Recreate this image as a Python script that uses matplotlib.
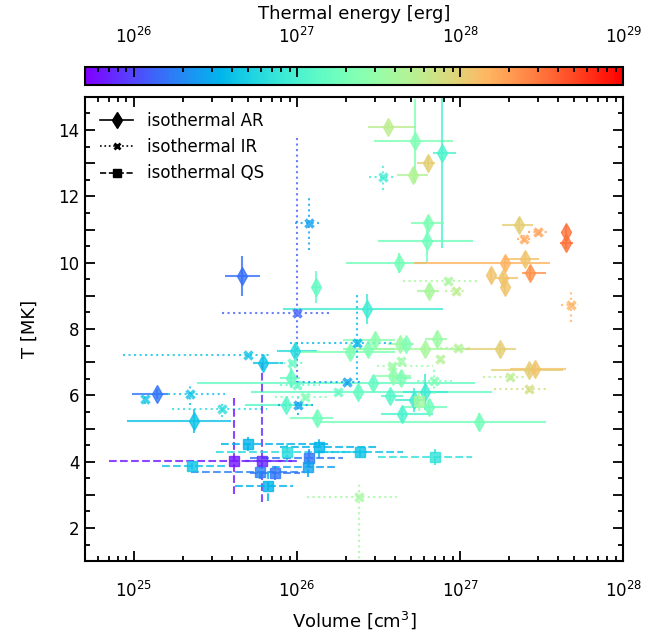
import matplotlib

matplotlib.use("Agg")
import matplotlib.pyplot as plt
import numpy as np
from matplotlib.colors import LogNorm
from matplotlib.lines import Line2D
from matplotlib.ticker import FuncFormatter, LogLocator, MultipleLocator, NullFormatter

# volumes in units of 1e25 cm^3; *_lo / *_hi are the ends of the x error bar
# temperatures in MK, errors below / above; thermal energy in erg

# --- isothermal AR (diamonds, solid) ---
ar_vol = [4.6, 13.1, 1.38, 2.33, 6.2, 9.7, 9.2, 8.6, 13.3, 21.1, 27.3, 30.1, 42.9, 46.7,
          61, 72.3, 176, 265, 288, 38.8, 43.5, 29.3, 23.7, 37.2, 61, 52.2, 64.5, 44.1,
          131, 36.2, 53, 77.6, 63.6, 51.5, 63.6, 62.7, 42.3, 189, 251, 230, 447, 447,
          269, 155, 184, 189, 64.5, 26.9]
ar_vol_lo = [3.6, 12.4, 0.97, 0.91, 5.4, 7.5, 7.9, 4.8, 9.1, 10.4, 19.2, 19.2, 36, 46.7,
             19.7, 61, 107, 155, 203, 30.1, 38, 2.44, 5.2, 32.8, 44.7, 40, 44.7, 32.8,
             13.6, 27.3, 29.7, 68.3, 54.5, 41.1, 50, 31.4, 20, 52.2, 191, 181, 447, 411,
             240, 155, 164, 189, 54.5, 8.2]
ar_vol_hi = [5.9, 13.8, 1.62, 3.94, 8.2, 13.3, 10.4, 12.5, 16.6, 39.9, 39.9, 39.9, 52, 46.7,
             115, 83, 221, 429, 447, 50, 50, 124, 157, 44.7, 84.4, 62, 83.2, 68.3,
             337, 53.7, 90.6, 94.5, 70.3, 63.6, 79.8, 120, 61.8, 357, 305, 281, 447, 493,
             337, 155, 227, 189, 74.3, 78.6]
ar_temp = [9.6, 9.27, 6.04, 5.22, 6.97, 7.34, 6.52, 5.71, 5.32, 7.31, 7.40, 7.67, 7.55, 7.55,
           7.40, 7.70, 7.40, 6.76, 6.79, 6.58, 6.52, 6.37, 6.10, 5.98, 6.10, 5.86, 5.65, 5.44,
           5.19, 14.10, 13.67, 13.31, 13.01, 12.65, 11.20, 10.66, 9.99, 9.99, 10.11, 11.14,
           10.93, 10.60, 9.69, 9.63, 9.54, 9.27, 9.15, 8.60]
ar_temp_err = [0.6, 0.48, 0.15, 0.36, 0.2, 0.2, 0.3, 0.15, 0.2, 0.2, 0.2, 0.25, 0.15, 0.15,
               0.15, 0.25, 0.15, 0.15, 0.15, 0.2, 0.2, 0.15, 0.2, 0.15, 0.55, 0.35, 0.2, 0.2,
               0.27, 0.1, 1.27, 2.87, 0.2, 0.2, 0.25, 0.65, 0.3, 0.2, 0.2, 0.2,
               0.2, 0.2, 0.2, 0.2, 0.15, 0.2, 0.2, 0.45]
ar_energy = [1.5e26, 1.5e27, 1.6e26, 4.2e26, 4.2e26, 6.2e26, 1.5e27, 1.2e27, 1.8e27, 2.2e27,
             2.2e27, 2.6e27, 3.3e27, 2.2e27, 4.1e27, 3.3e27, 1.0e28, 1.0e28, 1.2e28, 2.8e27,
             2.2e27, 1.5e27, 1.5e27, 1.2e27, 8.9e26, 8.9e26, 1.8e27, 1.05e27, 1.9e27, 5.6e27,
             2.2e27, 1.05e27, 1.0e28, 4.8e27, 2.2e27, 1.8e27, 1.9e27, 1.5e28, 1.2e28, 1.0e28,
             3.2e28, 3.2e28, 2.2e28, 1.2e28, 1.2e28, 1.2e28, 4.1e27, 8.9e26]

# --- isothermal IR (crosses, dotted) ---
ir_vol = [1.17, 2.21, 3.47, 5.0, 10.0, 11.8, 33.7, 9.3, 20.3, 10.1, 10.0, 11.2, 17.8, 23.4,
          38.3, 43.5, 75.4, 97.2, 69.3, 203, 265, 24.0, 301, 247, 480, 84.4, 94.5]
ir_vol_lo = [1.17, 1.62, 1.71, 0.86, 3.47, 9.7, 27.7, 7.6, 10.0, 7.6, 7.9, 7.3, 17.8, 9.1,
             31.0, 43.5, 75.4, 75.4, 54.5, 138, 162, 11.5, 261, 224, 417, 44.7, 80.9]
ir_vol_hi = [1.17, 3.62, 6.54, 6.8, 15.9, 13.6, 40.5, 11.2, 24.4, 12.5, 13.8, 15.9, 17.8, 39.9,
             68.3, 43.5, 75.4, 120, 89.3, 254, 352, 41.1, 342, 273, 530, 131, 110]
ir_temp = [5.89, 6.04, 5.59, 7.22, 8.48, 11.20, 12.59, 6.97, 6.40, 5.71, 6.31, 5.95, 6.10, 7.58,
           6.88, 7.03, 7.10, 7.43, 6.43, 6.55, 6.19, 2.93, 10.93, 10.72, 8.72, 9.45, 9.15]
ir_temp_lo = [0.15, 0.33, 0.25, 0.05, 2.1, 0.83, 0.4, 0.1, 0.1, 0.3, 0.1, 0.1, 0.1, 1.12,
              0.1, 0.1, 0.1, 0.1, 0.4, 0.1, 0.1, 2.0, 0.1, 0.1, 0.5, 0.1, 0.1]
ir_temp_hi = [0.15, 0.33, 0.25, 0.05, 5.3, 0.83, 0.4, 0.1, 0.1, 0.3, 0.1, 0.1, 0.1, 1.45,
              0.1, 0.1, 0.1, 0.1, 0.4, 0.1, 0.1, 0.5, 0.1, 0.1, 0.5, 0.1, 0.1]
ir_energy = [4.2e26, 4.2e26, 6.2e26, 4.2e26, 1.3e26, 2.7e26, 8.9e26, 1.5e27, 2.7e26, 2.7e26,
             1.5e27, 2.2e27, 1.5e27, 3.4e26, 3.3e27, 3.3e27, 4.8e27, 4.8e27, 2.2e27, 5.6e27,
             7.6e27, 3.9e27, 1.9e28, 1.7e28, 1.5e28, 4.1e27, 5.6e27]

# --- isothermal QS (squares, dashed) ---
qs_vol = [2.27, 4.11, 6.1, 5.0, 8.7, 13.6, 11.8, 11.7, 5.9, 7.3, 6.6, 24.4, 70.3, 56.0]
qs_vol_lo = [1.49, 0.70, 4.8, 3.42, 3.19, 7.9, 5.15, 7.0, 2.24, 5.15, 4.17, 13.8, 31.4, 50]
qs_vol_hi = [3.72, 9.3, 10.4, 15.9, 28, 31, 19.2, 17.6, 11.2, 10.4, 9.45, 44.7, 118, 62]
qs_temp = [3.87, 4.02, 4.02, 4.53, 4.29, 4.44, 4.11, 3.84, 3.69, 3.66, 3.26, 4.29, 4.14, 5.83]
qs_temp_lo = [0.1, 1.0, 1.24, 0.2, 0.3, 0.33, 0.3, 0.3, 0.2, 0.2, 0.45, 0.15, 0.25, 0.3]
qs_temp_hi = [0.1, 1.9, 2.95, 0.2, 0.3, 0.33, 0.3, 0.3, 0.2, 0.2, 0.45, 0.15, 0.25, 0.3]
qs_energy = [4.2e26, 6.3e25, 7.4e25, 3.4e26, 6.2e26, 3.4e26, 1.6e26, 2.7e26, 1.8e26, 1.6e26,
             3.4e26, 4.2e26, 7.2e26, 3.9e27]

cmap = plt.get_cmap("rainbow")
norm = LogNorm(vmin=5e25, vmax=1e29)

fig = plt.figure(figsize=(6.68, 6.37), dpi=100)
ax = fig.add_axes([0.127, 0.119, 0.806, 0.729])
cax = fig.add_axes([0.127, 0.867, 0.806, 0.028])


def draw(vol, lo, hi, temp, tlo, thi, energy, marker, ls, ms, mew):
    vol = np.asarray(vol) * 1e25
    lo = np.asarray(lo) * 1e25
    hi = np.asarray(hi) * 1e25
    for i in range(len(vol)):
        c = cmap(norm(energy[i]))
        eb = ax.errorbar(vol[i], temp[i],
                         xerr=[[vol[i] - lo[i]], [hi[i] - vol[i]]],
                         yerr=[[tlo[i]], [thi[i]]],
                         fmt=marker, color=c, ms=ms, mew=mew,
                         elinewidth=1.5, capsize=0, alpha=0.8)
        for lc in eb[2]:
            lc.set_linestyle(ls)


draw(ar_vol, ar_vol_lo, ar_vol_hi, ar_temp, ar_temp_err, ar_temp_err, ar_energy,
     "d", "-", 9, 1)
draw(ir_vol, ir_vol_lo, ir_vol_hi, ir_temp, ir_temp_lo, ir_temp_hi, ir_energy,
     "x", ":", 6, 2.5)
draw(qs_vol, qs_vol_lo, qs_vol_hi, qs_temp, qs_temp_lo, qs_temp_hi, qs_energy,
     "s", "--", 7, 1)

ax.set_xscale("log")
ax.set_xlim(5e24, 1e28)
ax.set_ylim(1, 15)
ax.set_xlabel("Volume [cm$^3$]", fontsize=13, labelpad=6)
ax.set_ylabel("T [MK]", fontsize=13, labelpad=14)
ax.yaxis.set_major_locator(MultipleLocator(1))
ax.yaxis.set_minor_locator(MultipleLocator(0.5))
ax.yaxis.set_major_formatter(FuncFormatter(lambda v, p: f"{v:.0f}" if round(v) % 2 == 0 else ""))
ax.xaxis.set_minor_locator(LogLocator(base=10, subs=np.arange(2, 10)))
ax.xaxis.set_minor_formatter(NullFormatter())
ax.tick_params(which="both", direction="in", top=True, right=True, width=1.3)
ax.tick_params(which="major", length=7)
ax.tick_params(which="minor", length=3.5)
ax.tick_params(axis="x", labelsize=12, pad=14)
ax.tick_params(axis="y", labelsize=12, pad=4)
for s in ax.spines.values():
    s.set_linewidth(1.5)

handles = [
    Line2D([], [], color="k", ls="-", marker="d", ms=8, lw=1.2),
    Line2D([], [], color="k", ls=":", marker="x", ms=5, mew=2, lw=1.2),
    Line2D([], [], color="k", ls="--", marker="s", ms=6, lw=1.2),
]
ax.legend(handles, ["isothermal AR", "isothermal IR", "isothermal QS"],
          loc="upper left", frameon=False, fontsize=12)

sm = plt.cm.ScalarMappable(norm=norm, cmap=cmap)
cb = fig.colorbar(sm, cax=cax, orientation="horizontal")
cax.xaxis.set_ticks_position("top")
cax.xaxis.set_label_position("top")
cb.set_label("Thermal energy [erg]", fontsize=13, labelpad=6)
cax.xaxis.set_minor_locator(LogLocator(base=10, subs=np.arange(2, 10)))
cax.xaxis.set_minor_formatter(NullFormatter())
cax.tick_params(which="both", direction="in", top=True, bottom=False, width=1.3)
cax.tick_params(which="major", length=7, labelsize=12, pad=14)
cax.tick_params(which="minor", length=3.5)
cb.outline.set_linewidth(1.5)

fig.savefig("out.png", dpi=100)
